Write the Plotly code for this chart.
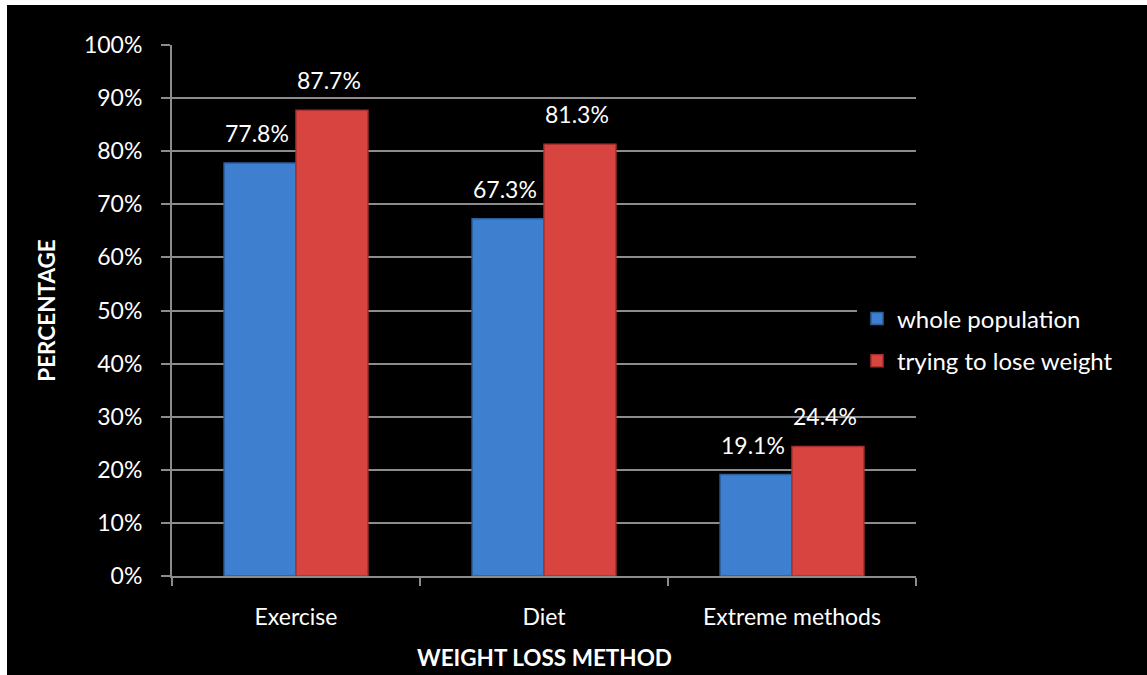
import plotly.graph_objects as go

methods = ["Exercise", "Diet", "Extreme methods"]
whole_population = [77.8, 67.3, 19.1]
trying_to_lose = [87.7, 81.3, 24.4]
y_ticks = [0, 10, 20, 30, 40, 50, 60, 70, 80, 90, 100]

FONT = "Lato, 'Open Sans', sans-serif"
W, H = 1147, 675
ML, MR, MT, MB = 172, 231, 45, 99
PW, PH = W - ML - MR, H - MT - MB
BARGAP = 0.42

series = [
    ("whole population", whole_population, "#3f7fcf", "#2d5f9e"),
    ("trying to lose weight", trying_to_lose, "#d84440", "#a8302d"),
]

fig = go.Figure()
for name, vals, color, edge in series:
    fig.add_trace(go.Bar(
        name=name, x=methods, y=vals,
        marker=dict(color=color, line=dict(color=edge, width=1.5)),
        legendgroup=name,
    ))

# value labels sit a little above each bar, centred on it
cat_px = PW / len(methods)
bar_px = cat_px * (1 - BARGAP) / len(series)
annotations = []
for i, (name, vals, color, edge) in enumerate(series):
    shift = (i - (len(series) - 1) / 2) * bar_px
    for m, v in zip(methods, vals):
        annotations.append(dict(
            x=m, y=v, xref="x", yref="y", text=f"{v:.1f}%",
            showarrow=False, xanchor="center", yanchor="bottom",
            xshift=shift - 3, yshift=14,
            font=dict(size=23, color="white", family=FONT),
        ))

# horizontal axis title
annotations.append(dict(
    text="<b>WEIGHT LOSS METHOD</b>", xref="paper", yref="paper",
    x=0.5, y=-(657 - (MT + PH)) / PH,
    xanchor="center", yanchor="middle", showarrow=False,
    font=dict(size=22.5, color="white", family=FONT),
))

fig.update_layout(
    width=W, height=H,
    margin=dict(l=ML, r=MR, t=MT, b=MB, autoexpand=False),
    paper_bgcolor="black", plot_bgcolor="black",
    font=dict(family=FONT, color="white", size=23),
    barmode="group", bargap=BARGAP, bargroupgap=0.0,
    showlegend=True,
    legend=dict(
        x=(857 - ML) / PW, xanchor="left",
        y=(MT + PH - 340) / PH, yanchor="middle",
        bgcolor="black", font=dict(size=24, color="white", family=FONT),
        tracegroupgap=8, traceorder="grouped",
        itemwidth=30,
    ),
    xaxis=dict(
        showgrid=False, showline=True, linecolor="#8c8c8c", linewidth=2,
        ticks="outside", tickson="boundaries", ticklen=8, tickcolor="#8c8c8c",
        tickwidth=2,
        tickfont=dict(size=23, color="white"),
        ticklabelstandoff=19,
    ),
    yaxis=dict(
        range=[0, 100], tickvals=y_ticks, ticktext=[f"{v}%" for v in y_ticks],
        showgrid=True, gridcolor="#8c8c8c", gridwidth=1.5,
        showline=True, linecolor="#8c8c8c", linewidth=2,
        ticks="outside", ticklen=9, tickcolor="#8c8c8c", tickwidth=2,
        tickfont=dict(size=23, color="white"),
        ticklabelstandoff=14,
        zeroline=False,
        title=dict(text="<b>PERCENTAGE</b>", font=dict(size=22.5, color="white"),
                   standoff=22),
    ),
    annotations=annotations,
    shapes=[
        # thin white frame strips along the top and left edges of the page
        dict(type="rect", xref="paper", yref="paper", layer="above",
             x0=-ML / PW, x1=(W - ML) / PW, y0=(PH + MT - 5) / PH, y1=(PH + MT) / PH,
             fillcolor="white", line=dict(width=0)),
        dict(type="rect", xref="paper", yref="paper", layer="above",
             x0=-ML / PW, x1=(7 - ML) / PW, y0=-MB / PH, y1=(PH + MT) / PH,
             fillcolor="white", line=dict(width=0)),
    ],
)

fig.write_html("out.html")
